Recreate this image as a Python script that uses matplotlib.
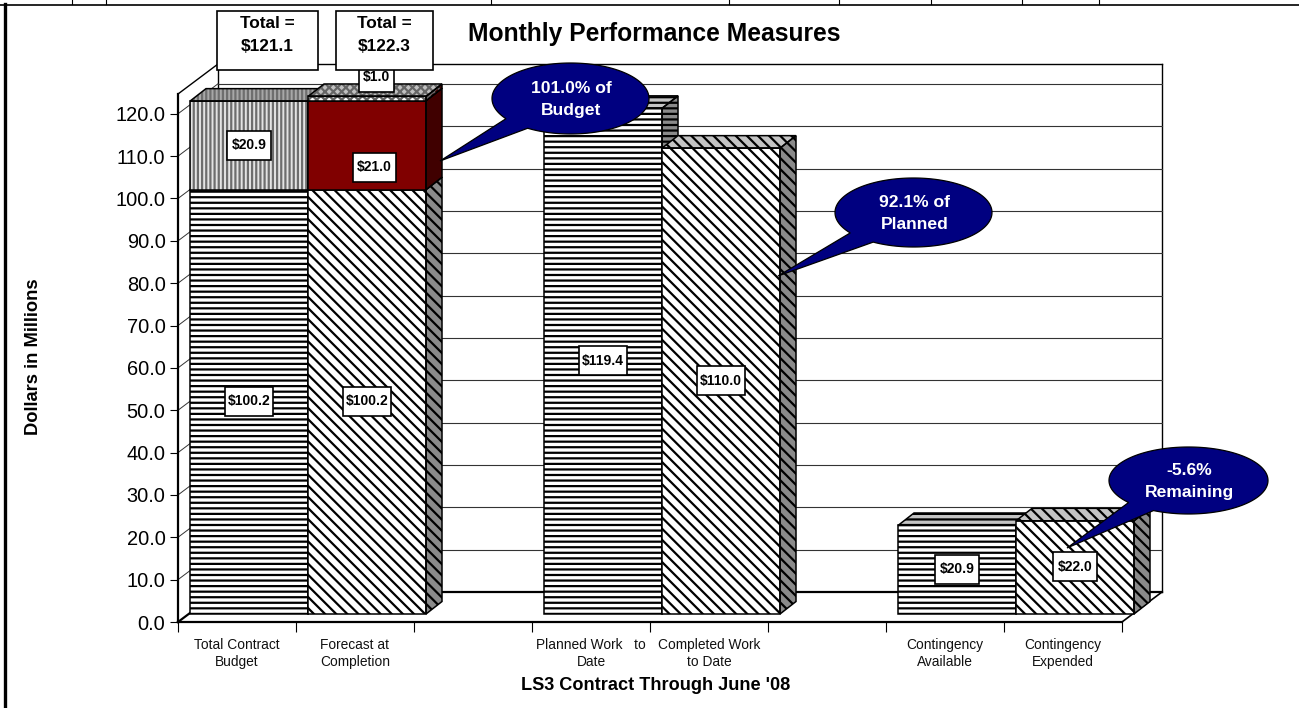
import math
import matplotlib
matplotlib.use("Agg")
import matplotlib.pyplot as plt
from matplotlib.patches import Polygon, Rectangle

plt.rcParams['font.family'] = ['Liberation Sans', 'DejaVu Sans']
plt.rcParams['hatch.linewidth'] = 1.6

# ---- data ----
categories = ["Total Contract\nBudget", "Forecast at\nCompletion", "",
              "Planned Work   to\nDate", "Completed Work\nto Date", "",
              "Contingency\nAvailable", "Contingency\nExpended"]
bar_slots = [0, 1, 3, 4, 6, 7]
lower_values = [100.2, 100.2, 119.4, 110.0, 20.9, 22.0]
upper_values = [20.9, 21.0, 0, 0, 0, 0]
cap_values = [0, 1.0, 0, 0, 0, 0]
lower_labels = ["$100.2", "$100.2", "$119.4", "$110.0", "$20.9", "$22.0"]
y_ticks = [0, 10, 20, 30, 40, 50, 60, 70, 80, 90, 100, 110, 120]
totals = ["Total =\n$121.1", "Total =\n$122.3"]
callout_texts = ["101.0% of\nBudget", "92.1% of\nPlanned", "-5.6%\nRemaining"]
title = "Monthly Performance Measures"
x_title = "LS3 Contract Through June '08"
y_title = "Dollars in Millions"

# ---- layout ----
W, H = 1299, 708
fig = plt.figure(figsize=(W / 100, H / 100), dpi=100, facecolor='white')
L, R, B, T = 178, 1122, 622, 94
ax = fig.add_axes([L / W, 1 - B / H, (R - L) / W, (B - T) / H])
ax.set_xlim(0, 8)
ax.set_ylim(0, (B - T) / 4.235)
ax.patch.set_visible(False)
PX = 8 / (R - L)           # data units per pixel, x
PY = 1 / 4.235             # data units per pixel, y
WALL_X, WALL_Y = 40 * PX, 30 * PY
OFF_X, OFF_Y = 12 * PX, 8 * PY
DEP_X, DEP_Y = 16 * PX, 12.5 * PY
LW = 1.1
ymax = ax.get_ylim()[1]

# axis cosmetics
for s in ('top', 'right'):
    ax.spines[s].set_visible(False)
for s in ('left', 'bottom'):
    ax.spines[s].set_linewidth(1.6)
ax.set_yticks(y_ticks)
ax.set_yticklabels([f"{v:.1f}" for v in y_ticks], fontsize=14.4)
ax.tick_params(axis='y', length=6, width=0.8, pad=3)
ax.set_xticks(range(9))
ax.set_xticklabels([])
ax.tick_params(axis='x', length=7, width=0.8)
ax.set_xticks([i + 0.5 for i in range(8)], minor=True)
ax.set_xticklabels(categories, minor=True, fontsize=9.9, color='#111111', linespacing=1.27)
ax.tick_params(axis='x', which='minor', length=0, pad=11.2)

# 3-D frame
ax.plot([WALL_X, WALL_X], [WALL_Y, ymax + WALL_Y], color='k', lw=1.0, clip_on=False, zorder=1)
ax.plot([8 + WALL_X, 8 + WALL_X], [WALL_Y, ymax + WALL_Y], color='k', lw=1.0, clip_on=False, zorder=1)
ax.plot([WALL_X, 8 + WALL_X], [ymax + WALL_Y] * 2, color='k', lw=1.0, clip_on=False, zorder=1)
ax.plot([0, WALL_X], [ymax, ymax + WALL_Y], color='k', lw=1.0, clip_on=False, zorder=1)
ax.plot([0, WALL_X], [0, WALL_Y], color='k', lw=1.6, clip_on=False, zorder=1)
ax.plot([8, 8 + WALL_X], [0, WALL_Y], color='k', lw=1.2, clip_on=False, zorder=1)
ax.plot([WALL_X, 8 + WALL_X], [WALL_Y] * 2, color='k', lw=1.6, clip_on=False, zorder=1)
for v in y_ticks[1:]:
    ax.plot([WALL_X, 8 + WALL_X], [v + WALL_Y] * 2, color='#333333', lw=0.8, clip_on=False, zorder=1)
    ax.plot([0, WALL_X], [v, v + WALL_Y], color='#333333', lw=0.7, clip_on=False, zorder=1)


def segment(slot, bottom, height, front, top, side, hatch, hatch_color, z):
    x0 = slot + OFF_X
    y0 = bottom + OFF_Y
    y1 = y0 + height
    ax.bar(x0, height, width=1, bottom=y0, align='edge', color=front, hatch=hatch,
           edgecolor=hatch_color, lw=0, zorder=z, clip_on=False)
    ax.bar(x0, height, width=1, bottom=y0, align='edge', fill=False,
           edgecolor='k', lw=LW, zorder=z + 0.1, clip_on=False)
    ax.add_patch(Polygon([(x0, y1), (x0 + DEP_X, y1 + DEP_Y), (x0 + 1 + DEP_X, y1 + DEP_Y), (x0 + 1, y1)],
                         closed=True, fc=top, ec=hatch_color, hatch=hatch, lw=0, zorder=z, clip_on=False))
    ax.add_patch(Polygon([(x0, y1), (x0 + DEP_X, y1 + DEP_Y), (x0 + 1 + DEP_X, y1 + DEP_Y), (x0 + 1, y1)],
                         closed=True, fill=False, ec='k', lw=LW, zorder=z + 0.1, clip_on=False))
    pts = [(x0 + 1, y0), (x0 + 1 + DEP_X, y0 + DEP_Y), (x0 + 1 + DEP_X, y1 + DEP_Y), (x0 + 1, y1)]
    ax.add_patch(Polygon(pts, closed=True, fc=side, ec=hatch_color if hatch else side,
                         hatch=hatch, lw=0, zorder=z, clip_on=False))
    ax.add_patch(Polygon(pts, closed=True, fill=False, ec='k', lw=LW, zorder=z + 0.1, clip_on=False))


H_LINES, D_LINES = '---', '\\\\\\'
lower_hatches = [H_LINES, D_LINES, H_LINES, D_LINES, H_LINES, D_LINES]
z = 3
for i, slot in enumerate(bar_slots):
    segment(slot, 0, lower_values[i], 'white', '#c4c4c4', '#8a8a8a', lower_hatches[i], 'k', z)
    z += 1
    if upper_values[i]:
        if i == 0:
            segment(slot, lower_values[i], upper_values[i], '#e4e4e4', '#a8a8a8', '#777777', '||||', '#6e6e6e', z)
        else:
            segment(slot, lower_values[i], upper_values[i], '#800000', '#800000', '#400000', None, 'k', z)
        z += 1
    if cap_values[i]:
        segment(slot, lower_values[i] + upper_values[i], cap_values[i], 'white', '#c0c0c0', '#400000', 'xxxx', '#666666', z)
        z += 1

# ---- overlay in pixels: boxes, labels, callouts ----
ov = fig.add_axes([0, 0, 1, 1], zorder=5)
ov.set_xlim(0, W)
ov.set_ylim(H, 0)
ov.axis('off')

# page border remnants
ov.plot([0, W], [4.5, 4.5], color='k', lw=1.2)
ov.plot([5.5, 5.5], [4, H], color='k', lw=2.4)
for x in [72, 106.5, 491, 729, 839, 931, 1022, 1099]:
    ov.plot([x, x], [0, 4], color='k', lw=0.8)


def box(cx, cy, w, h, text, fs, z=6, lw=1.2, text_dy=0, spacing=1.6):
    ov.add_patch(Rectangle((cx - w / 2, cy - h / 2), w, h, fc='white', ec='k', lw=lw, zorder=z))
    ov.text(cx, cy + text_dy, text, ha='center', va='center', fontsize=fs, fontweight='bold',
            zorder=z + 0.1, linespacing=spacing)


def val_px(slot, value):
    x = 178 + 118 * slot + 12 + 59
    y = 614 - 4.235 * value
    return x, y


for i, slot in enumerate(bar_slots):
    cx, cy = val_px(slot, lower_values[i] / 2)
    box(cx, cy - 0.5, 48 if len(lower_labels[i]) > 5 else 44, 29, lower_labels[i], 10)
box(249, 145, 44, 29, "$" + f"{upper_values[0]:.1f}", 10)
box(374.5, 167.5, 43, 29, "$" + f"{upper_values[1]:.1f}", 10)
box(376.5, 78, 35, 27, "$" + f"{cap_values[1]:.1f}", 10, text_dy=-1.5)
box(267.5, 40.5, 101, 59, totals[0], 12.4, z=7, text_dy=-5.5)
box(384.5, 40.5, 97, 59, totals[1], 12.4, z=7, text_dy=-5.5)


def callout(cx, cy, rx, ry, p1, p2, tip, text):
    a1 = math.atan2((p1[1] - cy) / ry, (p1[0] - cx) / rx)
    a2 = math.atan2((p2[1] - cy) / ry, (p2[0] - cx) / rx)
    # go the long way round from p1 to p2, then through the tip
    start, end = a1, a2
    while end <= start:
        end += 2 * math.pi
    if end - start < math.pi:
        start, end = a2, a1
        while end <= start:
            end += 2 * math.pi
    n = 200
    pts = [(cx + rx * math.cos(start + (end - start) * k / n),
            cy + ry * math.sin(start + (end - start) * k / n)) for k in range(n + 1)]
    pts.append(tip)
    ov.add_patch(Polygon(pts, closed=True, fc='#000080', ec='k', lw=0.9, zorder=8))
    ov.text(cx + 1, cy + 1, text, ha='center', va='center', color='white', fontsize=12.6,
            fontweight='bold', zorder=9, linespacing=1.55)


callout(570.5, 98.5, 78.5, 35.5, (505, 119), (528, 128), (440, 161), callout_texts[0])
callout(913.5, 212.5, 78.5, 34.5, (850, 233), (872, 243), (778, 276), callout_texts[1])
callout(1188.5, 480.5, 79.5, 33.5, (1130, 502), (1153, 511), (1067, 548), callout_texts[2])

ov.text(654, 33.5, title, ha='center', va='center', fontsize=17.7, fontweight='bold', zorder=9)
ov.text(655.5, 686, x_title, ha='center', va='center', fontsize=13.1, fontweight='bold', zorder=9)
ov.text(34, 357, y_title, ha='center', va='center', rotation=90, fontsize=13.2, fontweight='bold', zorder=9)

fig.savefig("out.png", dpi=100, facecolor='white')
